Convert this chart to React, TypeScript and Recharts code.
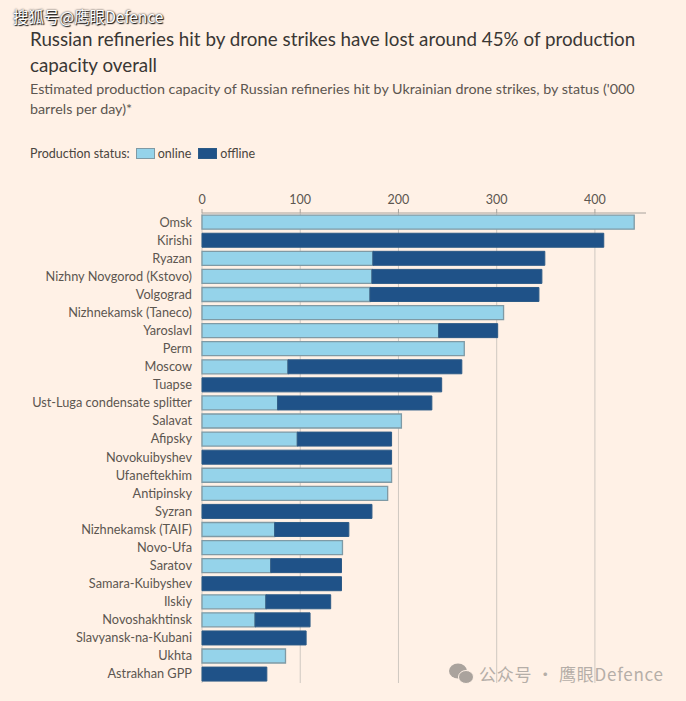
import { Bar, BarChart, CartesianGrid, XAxis, YAxis } from "recharts";

const refineries = [
  "Omsk", "Kirishi", "Ryazan", "Nizhny Novgorod (Kstovo)", "Volgograd",
  "Nizhnekamsk (Taneco)", "Yaroslavl", "Perm", "Moscow", "Tuapse",
  "Ust-Luga condensate splitter", "Salavat", "Afipsky", "Novokuibyshev",
  "Ufaneftekhim", "Antipinsky", "Syzran", "Nizhnekamsk (TAIF)", "Novo-Ufa",
  "Saratov", "Samara-Kuibyshev", "Ilskiy", "Novoshakhtinsk",
  "Slavyansk-na-Kubani", "Ukhta", "Astrakhan GPP",
];
const online = [
  440, 0, 174, 173, 171, 307, 241, 267, 87.5, 0, 77, 203, 97, 0, 193, 189, 0,
  74, 143, 70, 0, 65, 54, 0, 85, 0,
];
const offline = [
  0, 409, 175, 173, 172, 0, 60, 0, 177, 244, 157, 0, 96, 193, 0, 0, 173, 75.5,
  0, 72, 142, 66, 56, 106, 0, 66,
];
const ticks = [0, 100, 200, 300, 400];

const chartData = refineries.map((name, i) => ({
  name,
  online: online[i],
  offline: offline[i],
}));

const font = "Lato, sans-serif";
const textColor = "#5c5650";

function Swatch({ color, border }: { color: string; border: string }) {
  return (
    <span
      style={{
        display: "inline-block",
        width: 17,
        height: 9,
        background: color,
        border: `1px solid ${border}`,
        marginRight: 3,
      }}
    />
  );
}

export default function App() {
  return (
    <div
      style={{
        position: "absolute",
        left: 0,
        top: 0,
        width: 686,
        height: 701,
        overflow: "hidden",
        background: "#fff1e6",
        fontFamily: font,
      }}
    >
      <BarChart
        width={686}
        height={701}
        data={chartData}
        layout="vertical"
        barCategoryGap="12%"
        margin={{ top: 183, right: 40, bottom: 18, left: 0 }}
      >
        <CartesianGrid horizontal={false} syncWithTicks stroke="#cfc8c1" />
        <XAxis
          type="number"
          orientation="top"
          domain={[0, 452]}
          ticks={ticks}
          height={30}
          stroke="#a8a29c"
          tickSize={4}
          tickMargin={5}
          tick={{ fill: textColor, fontSize: 12.5, fontFamily: font }}
        />
        <YAxis
          type="category"
          dataKey="name"
          width={202}
          interval={0}
          axisLine={false}
          tickLine={false}
          tickMargin={4}
          tick={{ fill: textColor, fontSize: 12.75, fontFamily: font }}
        />
        <Bar
          dataKey="online"
          stackId="status"
          fill="#95d3ea"
          stroke="#7f9aa5"
          strokeWidth={1.3}
          isAnimationActive={false}
        />
        <Bar
          dataKey="offline"
          stackId="status"
          fill="#1f5288"
          stroke="#2b5a86"
          isAnimationActive={false}
        />
      </BarChart>

      <div style={{ position: "absolute", left: 13, top: 5, fontSize: 15.5, color: "#fff", textShadow: "0 0 2px #111, 1px 1px 1px #111", whiteSpace: "nowrap", fontFamily: "'Noto Sans CJK SC', sans-serif" }}>
        搜狐号@鹰眼Defence
      </div>

      <div style={{ position: "absolute", left: 30, top: 26, width: 640, fontSize: 18.8, lineHeight: "26px", color: "#3a3734" }}>
        Russian refineries hit by drone strikes have lost around 45% of production capacity overall
      </div>
      <div style={{ position: "absolute", left: 30, top: 79, width: 620, fontSize: 14.3, lineHeight: "20px", color: textColor }}>
        Estimated production capacity of Russian refineries hit by Ukrainian drone strikes, by status ('000 barrels per day)*
      </div>

      <div style={{ position: "absolute", left: 30, top: 145, fontSize: 12.5, color: "#4a4540", display: "flex", alignItems: "center", height: 16 }}>
        <span style={{ marginRight: 6 }}>Production status:</span>
        <Swatch color="#95d3ea" border="#7f9aa5" />
        <span style={{ marginRight: 7 }}>online</span>
        <Swatch color="#1f5288" border="#2b5a86" />
        <span>offline</span>
      </div>

      <div style={{ position: "absolute", left: 479, top: 661, fontSize: 17, color: "#b5aea8", letterSpacing: 0.75, whiteSpace: "nowrap", fontFamily: "'Noto Sans CJK SC', sans-serif" }}>
        公众号 · 鹰眼Defence
      </div>
      <svg style={{ position: "absolute", left: 448, top: 663 }} width={26} height={22}>
        <ellipse cx={10} cy={8} rx={9} ry={7.5} fill="#aaa39d" />
        <ellipse cx={18} cy={14} rx={7.5} ry={6.5} fill="#aaa39d" stroke="#fff1e6" />
      </svg>
    </div>
  );
}
